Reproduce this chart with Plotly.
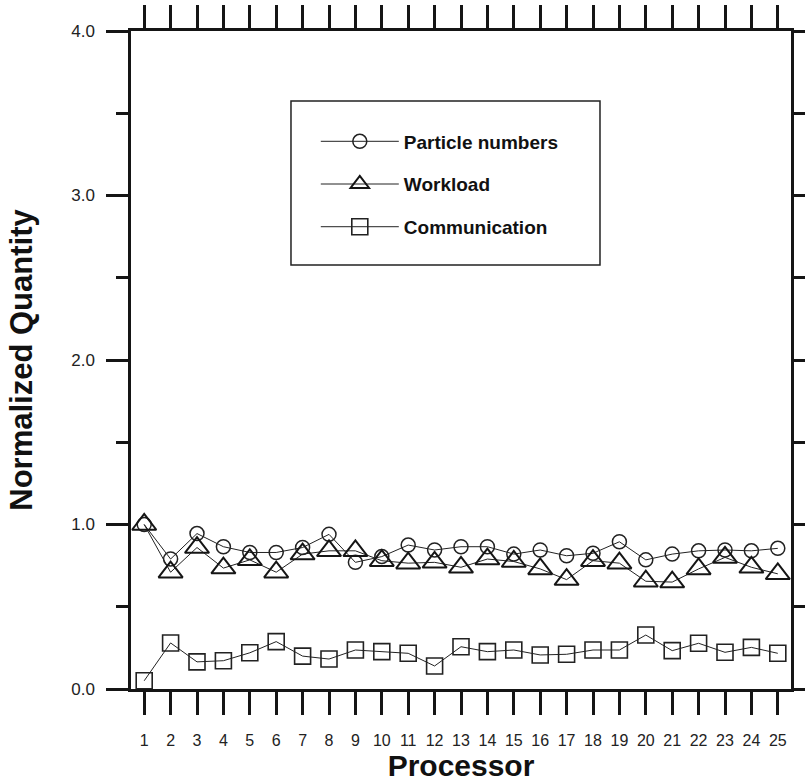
import plotly.graph_objects as go

processors = list(range(1, 26))
particle_numbers = [1.00, 0.79, 0.945, 0.865, 0.83, 0.83, 0.86, 0.94, 0.77, 0.805,
                    0.875, 0.845, 0.865, 0.865, 0.82, 0.845, 0.81, 0.825, 0.895, 0.785,
                    0.82, 0.84, 0.845, 0.84, 0.855]
workload = [1.00, 0.71, 0.86, 0.735, 0.785, 0.71, 0.82, 0.84, 0.84, 0.78,
            0.765, 0.77, 0.74, 0.79, 0.775, 0.73, 0.665, 0.78, 0.765, 0.655,
            0.65, 0.73, 0.80, 0.74, 0.70]
communication = [0.05, 0.28, 0.165, 0.172, 0.22, 0.288, 0.20, 0.182, 0.237, 0.227,
                 0.217, 0.14, 0.257, 0.227, 0.237, 0.207, 0.211, 0.237, 0.237, 0.328,
                 0.233, 0.278, 0.223, 0.253, 0.217]
y_tick_vals = [0, 1, 2, 3, 4]
y_tick_text = ["0.0", "1.0", "2.0", "3.0", "4.0"]

INK = "#151515"

fig = go.Figure()
fig.add_trace(go.Scatter(
    x=processors, y=particle_numbers, mode="lines+markers", name="Particle numbers",
    legendgroup="a",
    line=dict(color="#222", width=1),
    marker=dict(symbol="circle-open", size=14, color="#222", line=dict(width=1.5, color="#222")),
))
fig.add_trace(go.Scatter(
    x=processors, y=workload, mode="lines+markers", name="Workload",
    legendgroup="b",
    line=dict(color="#222", width=1),
    marker=dict(symbol="triangle-up-open", size=21, color=INK, line=dict(width=2, color=INK)),
))
fig.add_trace(go.Scatter(
    x=processors, y=communication, mode="lines+markers", name="Communication",
    legendgroup="c",
    line=dict(color="#222", width=1),
    marker=dict(symbol="square-open", size=16, color="#222", line=dict(width=1.6, color="#222")),
))

fig.add_shape(type="rect", xref="paper", yref="paper",
              x0=0.2424, x1=0.7106, y0=0.6444, y1=0.8936,
              line=dict(color="#222", width=1.5), fillcolor="rgba(0,0,0,0)")

fig.update_layout(
    width=805, height=783,
    margin=dict(l=131, r=14, t=31, b=94),
    paper_bgcolor="white", plot_bgcolor="white",
    font=dict(family="Liberation Sans, Arial, sans-serif", color="#222"),
    showlegend=True,
    legend=dict(
        x=0.28, y=0.861, xanchor="left", yanchor="top",
        bgcolor="rgba(0,0,0,0)", borderwidth=0,
        font=dict(size=19, family="Liberation Sans, Arial, sans-serif", color="#111", weight="bold"),
        tracegroupgap=15, itemwidth=78,
    ),
    xaxis=dict(
        range=[0.5, 25.5], tickmode="array", tickvals=processors,
        ticktext=[str(p) for p in processors],
        ticks="outside", ticklen=23, tickwidth=2.5, tickcolor=INK,
        showline=True, linewidth=3, linecolor=INK, mirror="ticks",
        showgrid=False, zeroline=False, automargin=False,
        tickfont=dict(size=16, color="#222"),
        ticklabelstandoff=12,
        title=dict(text="<b>Processor</b>", font=dict(size=30, color="#111"), standoff=2),
    ),
    yaxis=dict(
        range=[0, 4], tickmode="array", tickvals=y_tick_vals, ticktext=y_tick_text,
        ticks="outside", ticklen=22, tickwidth=2.5, tickcolor=INK,
        minor=dict(dtick=0.5, ticks="outside", ticklen=12, tickwidth=2.5, tickcolor=INK),
        showline=True, linewidth=2.5, linecolor=INK, mirror="ticks",
        showgrid=False, zeroline=False, automargin=False,
        tickfont=dict(size=17, color="#222"), ticklabelstandoff=8,
        title=dict(text="<b>Normalized Quantity</b>", font=dict(size=31, color="#111"), standoff=30),
    ),
)

fig.write_html("out.html")
